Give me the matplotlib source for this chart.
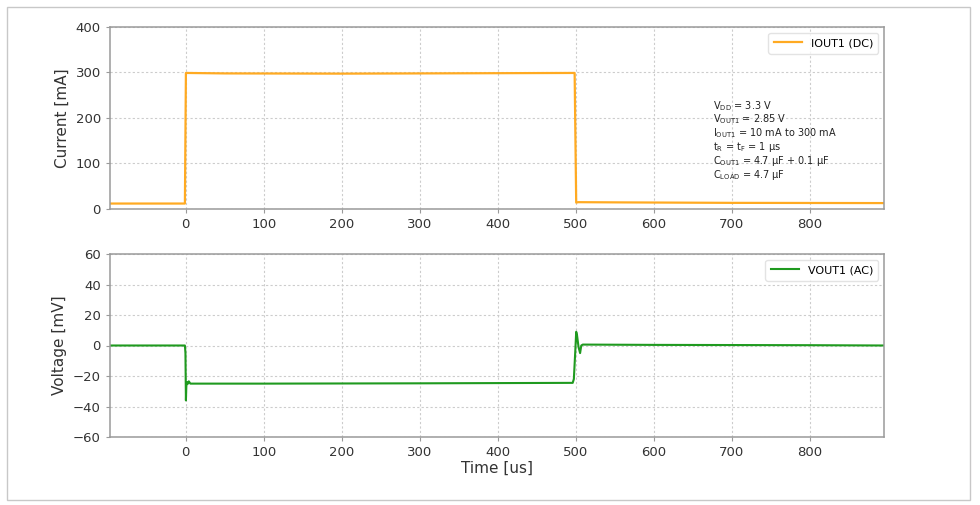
import matplotlib
matplotlib.use("Agg")
import matplotlib.pyplot as plt
from matplotlib.patches import Rectangle

# ---- data ----
t_current = [-97, -1, 0.3, 1, 50, 200, 400, 497, 498.5, 500.5, 503, 560, 700, 895]
i_current = [12, 12, 299, 299, 298, 297.5, 298.5, 299, 299, 14, 15, 14.5, 13.5, 13]

t_voltage = [-97, -1, -0.3, 0.3, 0.8, 1.5, 3, 4, 6, 100, 300, 496, 497.5, 499.5, 500.5, 501.5,
             503.5, 505.5, 507, 509, 600, 800, 895]
v_voltage = [0, 0, -5, -36, -27, -24, -25, -23.5, -25, -25, -24.8, -24.5, -22, -2, 9, 7,
             -1, -5, 0, 0.6, 0.4, 0.2, 0]

x_ticks = [0, 100, 200, 300, 400, 500, 600, 700, 800]
cur_ticks = [0, 100, 200, 300, 400]
volt_ticks = [-60, -40, -20, 0, 20, 40, 60]

label_i = "IOUT1 (DC)"
label_v = "VOUT1 (AC)"
annot = "\n".join([
    r"V$_{\mathrm{DD}}$ = 3.3 V",
    r"V$_{\mathrm{OUT1}}$ = 2.85 V",
    r"I$_{\mathrm{OUT1}}$ = 10 mA to 300 mA",
    r"t$_{\mathrm{R}}$ = t$_{\mathrm{F}}$ = 1 µs",
    r"C$_{\mathrm{OUT1}}$ = 4.7 µF + 0.1 µF",
    r"C$_{\mathrm{LOAD}}$ = 4.7 µF",
])

plt.rcParams['font.family'] = ['DejaVu Sans']
fig = plt.figure(figsize=(9.8, 5.05), dpi=100)
fig.patch.set_facecolor('white')
fig.patches.append(Rectangle((7/980, 1-500/505), 963/980, 493/505, transform=fig.transFigure,
                             fill=False, edgecolor='#c8c8c8', linewidth=1.0))

ax1 = fig.add_axes([110/980, 1-209/505, 774/980, 182/505])
ax2 = fig.add_axes([110/980, 1-437/505, 774/980, 183/505])

xlim = (-97, 895)
for ax in (ax1, ax2):
    ax.set_xlim(*xlim)
    ax.set_xticks(x_ticks)
    ax.grid(True, linestyle=(0, (2, 2)), color='#cccccc', linewidth=0.8)
    for s in ax.spines.values():
        s.set_color('#9a9a9a')
        s.set_linewidth(1.1)
    ax.tick_params(colors='#333333', labelsize=9.5, length=3, width=0.8)
    ax.tick_params(axis='both', color='#9a9a9a')

ax1.plot(t_current, i_current, color='#FFAA22', linewidth=1.6, label=label_i)
ax1.set_ylim(0, 400)
ax1.set_yticks(cur_ticks)
ax1.set_ylabel("Current [mA]", fontsize=11, color='#333333')
ax1.legend(loc='upper right', fontsize=8, frameon=True, edgecolor='#dddddd',
           handlelength=2.5, borderpad=0.5)
ax1.text(0.779, 0.605, annot, transform=ax1.transAxes, fontsize=7, va='top', ha='left',
         color='#222222', linespacing=1.0)

ax2.plot(t_voltage, v_voltage, color='#1f9a1f', linewidth=1.5, label=label_v)
ax2.set_ylim(-60, 60)
ax2.set_yticks(volt_ticks)
ax2.set_ylabel("Voltage [mV]", fontsize=11, color='#333333')
ax2.set_xlabel("Time [us]", fontsize=11, color='#333333', labelpad=1)
ax2.legend(loc='upper right', fontsize=8, frameon=True, edgecolor='#dddddd',
           handlelength=2.5, borderpad=0.5)

fig.savefig("out.png", dpi=100, facecolor='white')
